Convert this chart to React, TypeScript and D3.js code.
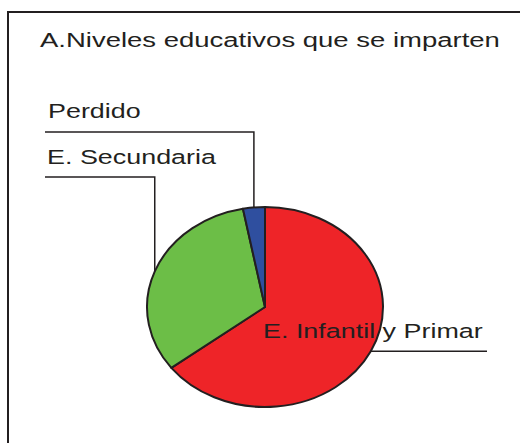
import React from "react";
import * as d3 from "d3";

const title = "A.Niveles educativos que se imparten";
const categories = ["E. Infantil y Primar", "E. Secundaria", "Perdido"];
const values = [64.6, 32.4, 3.0];
const colors = ["#ee2428", "#6cbe47", "#2f4f9f"];

const W = 520;
const H = 443;
const cx = 265;
const cy = 307;
const rx = 118;
const ry = 100;
const FS = 19.5;
const SX = 1.38;
const ink = "#231f20";

export default function App() {
  const pie = d3.pie<number>().sort(null).value((d) => d);
  const arcs = pie(values);
  const arcGen = d3.arc<d3.PieArcDatum<number>>().innerRadius(0).outerRadius(1);
  const xs = d3.scaleLinear().domain([-1, 1]).range([cx - rx, cx + rx]);
  const ys = d3.scaleLinear().domain([-1, 1]).range([cy - ry, cy + ry]);
  const edge = (a: d3.PieArcDatum<number>) => {
    const m = (a.startAngle + a.endAngle) / 2;
    return [xs(Math.sin(m)), ys(-Math.cos(m))];
  };

  const [pX, pY] = edge(arcs[2]);
  const [sX, sY] = edge(arcs[1]);
  const [iX, iY] = edge(arcs[0]);

  const label = (t: string, x: number, y: number, sx: number = SX) => (
    <text
      transform={`translate(${x},${y}) scale(${sx},1)`}
      fontFamily="'Liberation Sans', Arial, sans-serif"
      fontSize={FS}
      fill={ink}
    >
      {t}
    </text>
  );

  return (
    <svg
      width={W}
      height={H}
      style={{ position: "absolute", left: 0, top: 0, background: "#fff" }}
    >
      <rect x={0} y={0} width={W} height={H} fill="#fff" />
      <rect x={8} y={12} width={600} height={600} fill="none" stroke={ink} strokeWidth={2} />
      {label(title, 40, 47, 1.41)}
      <g transform={`translate(${cx},${cy}) scale(${rx},${ry})`}>
        {arcs.map((a, i) => (
          <path
            key={i}
            d={arcGen(a) || ""}
            fill={colors[i]}
            stroke={ink}
            strokeWidth={2}
            strokeLinejoin="round"
            vectorEffect="non-scaling-stroke"
          />
        ))}
      </g>
      <polyline
        points={`45,132 ${pX},132 ${pX},${pY}`}
        fill="none"
        stroke={ink}
        strokeWidth={1.5}
      />
      <polyline
        points={`45,177 ${sX},177 ${sX},${sY}`}
        fill="none"
        stroke={ink}
        strokeWidth={1.5}
      />
      <polyline
        points={`${iX},${iY} 487,${iY}`}
        fill="none"
        stroke={ink}
        strokeWidth={1.5}
      />
      {label(categories[2], 48, 118)}
      {label(categories[1], 47, 164)}
      {label(categories[0], 263, 338)}
    </svg>
  );
}
